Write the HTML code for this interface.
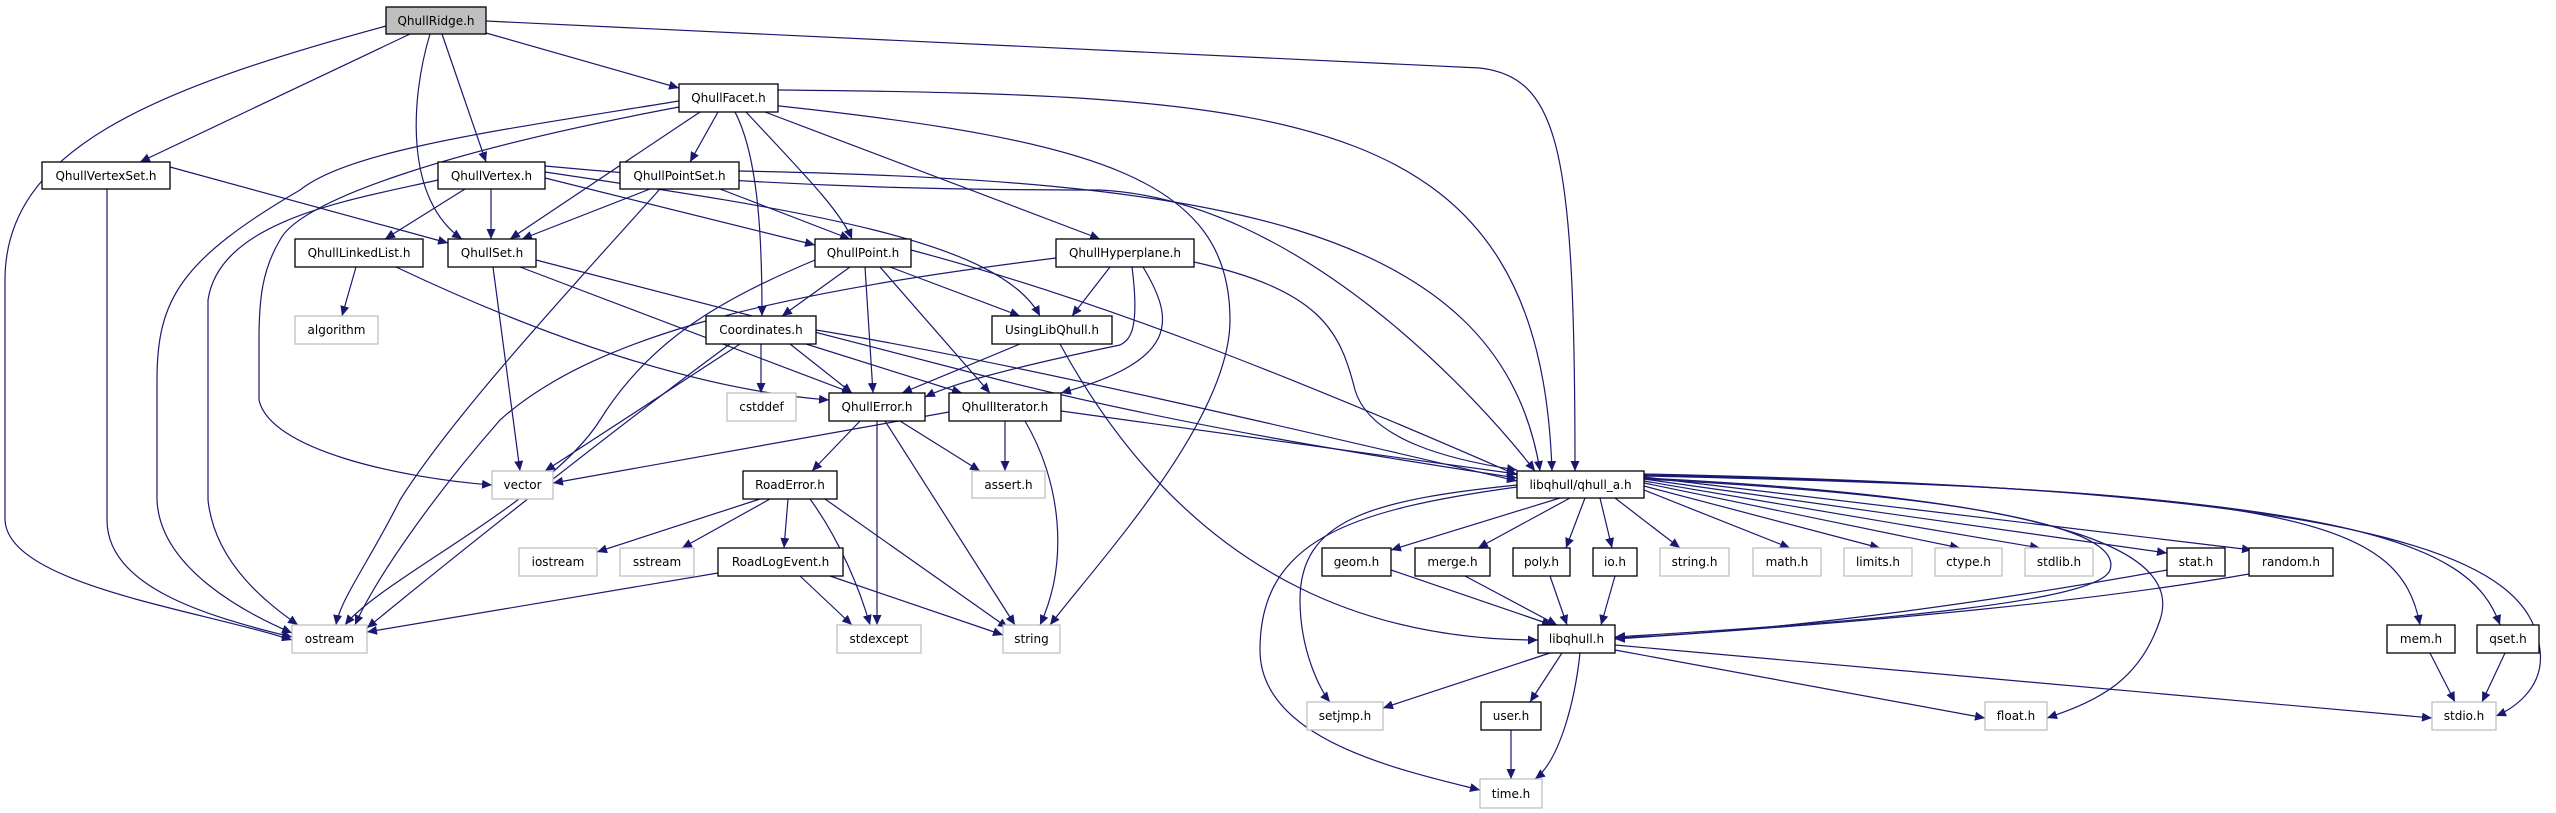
<!DOCTYPE html>
<html><head><meta charset="utf-8">
<style>
html,body{margin:0;padding:0;background:#fff;}
svg{display:block;}
text{font-family:"DejaVu Sans","Liberation Sans",sans-serif;font-size:12px;fill:#000;}
.n{fill:#fff;stroke:#000;stroke-width:1.3;}
.s{fill:#fff;stroke:#bfbfbf;stroke-width:1.3;}
.e{fill:none;stroke:#191970;stroke-width:1.2;}
</style></head><body>
<svg width="2556" height="813" viewBox="0 0 2556 813" xmlns="http://www.w3.org/2000/svg">
<defs>
<marker id="a" markerUnits="userSpaceOnUse" markerWidth="11" markerHeight="9" refX="10" refY="4.5" orient="auto">
<path d="M0,0 L10,4.5 L0,9 z" fill="#191970"/>
</marker>
</defs>
<g class="e" marker-end="url(#a)">
<!-- QhullRidge -->
<path d="M410,34 L140,162"/>
<path d="M430,34 C410,100 405,200 462,239"/>
<path d="M442,34 L486,162"/>
<path d="M486,33 L679,88"/>
<path d="M486,21 L1480,68 C1560,78 1575,150 1575,471"/>
<path d="M386,26 C150,90 5,150 5,280 L5,520 C8,585 200,610 292,640"/>
<!-- QhullFacet -->
<path d="M679,101 C500,130 350,150 300,190 C180,260 157,300 157,380 L157,500 C160,570 250,615 292,633"/>
<path d="M679,107 C450,150 300,200 280,240 C262,270 259,300 259,340 L259,400 C270,450 400,478 492,485"/>
<path d="M700,112 L510,239"/>
<path d="M718,112 L690,162"/>
<path d="M735,112 C760,160 762,250 762,316"/>
<path d="M746,112 C800,170 840,210 852,239"/>
<path d="M765,112 L1100,239"/>
<path d="M778,90 C1300,95 1540,110 1552,471"/>
<path d="M770,105 C1100,140 1230,180 1230,320 C1230,420 1100,560 1050,625"/>
<!-- VertexSet -->
<path d="M170,167 L448,243"/>
<path d="M107,189 L107,520 C107,585 200,615 292,637"/>
<!-- Vertex -->
<path d="M438,180 C350,200 220,220 208,300 L208,500 C215,565 270,605 298,625"/>
<path d="M465,189 L385,239"/>
<path d="M491,189 L491,239"/>
<path d="M545,178 L815,245"/>
<path d="M545,172 C800,210 1000,240 1040,316"/>
<path d="M545,166 C800,190 1000,190 1100,190 C1300,200 1480,400 1535,471"/>
<!-- PointSet -->
<path d="M650,189 L522,239"/>
<path d="M720,189 L850,239"/>
<path d="M739,171 C1200,180 1500,220 1540,471"/>
<path d="M660,189 C560,300 450,420 400,500 C370,560 340,600 336,625"/>
<!-- LinkedList -->
<path d="M356,267 L342,316"/>
<path d="M396,267 C550,340 700,390 829,400"/>
<!-- QhullSet -->
<path d="M493,267 L520,471"/>
<path d="M520,267 L852,393"/>
<path d="M536,260 L1000,380 C1200,430 1400,460 1517,478"/>
<!-- QhullPoint -->
<path d="M815,260 C720,300 650,340 600,420 C550,500 380,580 345,625"/>
<path d="M850,267 L782,316"/>
<path d="M865,267 L873,393"/>
<path d="M880,267 L990,393"/>
<path d="M890,267 L1020,316"/>
<path d="M911,250 C1100,300 1300,380 1517,475"/>
<!-- Hyperplane -->
<path d="M1056,258 C800,290 600,330 500,420 C430,500 375,580 355,625"/>
<path d="M1110,267 L1072,316"/>
<path d="M1132,267 C1140,330 1130,340 1120,345 C1000,370 950,385 925,397"/>
<path d="M1143,267 C1175,320 1180,360 1061,393"/>
<path d="M1194,262 C1320,290 1340,330 1355,390 C1370,440 1450,460 1517,470"/>
<!-- Coordinates -->
<path d="M761,344 L761,393"/>
<path d="M790,344 L852,393"/>
<path d="M806,344 L962,393"/>
<path d="M816,330 C1000,360 1300,430 1517,481"/>
<path d="M740,344 L545,471"/>
<path d="M730,344 C600,440 450,560 367,628"/>
<!-- UsingLibQhull -->
<path d="M1020,344 L902,393"/>
<path d="M1060,344 C1200,600 1400,640 1538,640"/>
<!-- QhullIterator -->
<path d="M1005,421 L1005,471"/>
<path d="M1025,421 C1060,480 1070,560 1040,625"/>
<path d="M949,412 L553,483"/>
<path d="M1061,411 L1517,474"/>
<!-- QhullError -->
<path d="M860,421 L812,471"/>
<path d="M900,421 L980,471"/>
<path d="M877,421 L877,625"/>
<path d="M885,421 L1015,625"/>
<!-- RoadError -->
<path d="M760,499 L597,552"/>
<path d="M770,499 L682,548"/>
<path d="M788,499 L784,548"/>
<path d="M810,499 C840,540 860,590 870,625"/>
<path d="M825,499 L1008,628"/>
<!-- RoadLogEvent -->
<path d="M718,573 L367,632"/>
<path d="M800,576 L852,625"/>
<path d="M830,576 L1003,635"/>
<!-- qhull_a -->
<path d="M1560,498 L1391,550"/>
<path d="M1570,498 L1478,548"/>
<path d="M1585,498 L1566,548"/>
<path d="M1600,498 L1612,548"/>
<path d="M1615,498 L1680,548"/>
<path d="M1644,490 L1790,548"/>
<path d="M1644,486 L1880,548"/>
<path d="M1644,483 L1960,548"/>
<path d="M1644,481 L2040,548"/>
<path d="M1644,479 L2167,553"/>
<path d="M1644,477 L2252,550"/>
<path d="M1644,476 C2300,490 2400,520 2420,625"/>
<path d="M1644,475 C2350,490 2470,540 2500,625"/>
<path d="M1644,474 C2400,490 2530,560 2540,650 C2545,690 2510,710 2496,716"/>
<path d="M1644,478 C2100,500 2180,560 2160,620 C2140,680 2100,700 2047,718"/>
<path d="M1644,479 C2050,500 2120,540 2110,570 C2100,600 1900,620 1615,637"/>
<path d="M1517,485 C1370,500 1300,520 1300,600 C1300,650 1320,690 1330,702"/>
<path d="M1517,487 C1350,510 1260,540 1260,650 C1260,740 1400,770 1480,790"/>
<!-- to libqhull.h -->
<path d="M1391,570 L1552,625"/>
<path d="M1465,576 L1557,625"/>
<path d="M1550,576 L1567,625"/>
<path d="M1615,576 L1601,625"/>
<path d="M2167,570 C2000,600 1800,630 1615,638"/>
<path d="M2249,574 C2100,600 1900,620 1615,639"/>
<!-- libqhull.h -->
<path d="M1550,653 L1383,708"/>
<path d="M1562,653 L1530,702"/>
<path d="M1580,653 C1575,700 1560,760 1535,779"/>
<path d="M1615,650 L1985,718"/>
<path d="M1615,645 L2432,718"/>
<path d="M1511,730 L1511,779"/>
<path d="M2430,653 L2455,702"/>
<path d="M2505,653 L2482,702"/>
</g>
<g text-anchor="middle">
<rect x="386" y="7" width="100" height="27" fill="#bfbfbf" stroke="#000" stroke-width="1.3"/><text x="436" y="25">QhullRidge.h</text>
<rect class="n" x="679" y="84" width="99" height="28"/><text x="728.5" y="102">QhullFacet.h</text>
<rect class="n" x="42" y="162" width="128" height="27"/><text x="106" y="180">QhullVertexSet.h</text>
<rect class="n" x="438" y="162" width="107" height="27"/><text x="491.5" y="180">QhullVertex.h</text>
<rect class="n" x="620" y="162" width="119" height="27"/><text x="679.5" y="180">QhullPointSet.h</text>
<rect class="n" x="295" y="239" width="128" height="28"/><text x="359" y="257">QhullLinkedList.h</text>
<rect class="n" x="448" y="239" width="88" height="28"/><text x="492" y="257">QhullSet.h</text>
<rect class="n" x="815" y="239" width="96" height="28"/><text x="863" y="257">QhullPoint.h</text>
<rect class="n" x="1056" y="239" width="138" height="28"/><text x="1125" y="257">QhullHyperplane.h</text>
<rect class="s" x="295" y="316" width="83" height="28"/><text x="336.5" y="334">algorithm</text>
<rect class="n" x="706" y="316" width="110" height="28"/><text x="761" y="334">Coordinates.h</text>
<rect class="n" x="992" y="316" width="120" height="28"/><text x="1052" y="334">UsingLibQhull.h</text>
<rect class="s" x="727" y="393" width="69" height="28"/><text x="761.5" y="411">cstddef</text>
<rect class="n" x="829" y="393" width="96" height="28"/><text x="877" y="411">QhullError.h</text>
<rect class="n" x="949" y="393" width="112" height="28"/><text x="1005" y="411">QhullIterator.h</text>
<rect class="s" x="492" y="471" width="61" height="28"/><text x="522.5" y="489">vector</text>
<rect class="n" x="743" y="471" width="94" height="28"/><text x="790" y="489">RoadError.h</text>
<rect class="s" x="972" y="471" width="73" height="27"/><text x="1008.5" y="489">assert.h</text>
<rect class="n" x="1517" y="471" width="127" height="27"/><text x="1580.5" y="489">libqhull/qhull_a.h</text>
<rect class="s" x="519" y="548" width="78" height="28"/><text x="558" y="566">iostream</text>
<rect class="s" x="620" y="548" width="74" height="28"/><text x="657" y="566">sstream</text>
<rect class="n" x="718" y="548" width="125" height="28"/><text x="780.5" y="566">RoadLogEvent.h</text>
<rect class="n" x="1322" y="548" width="69" height="28"/><text x="1356.5" y="566">geom.h</text>
<rect class="n" x="1415" y="548" width="75" height="28"/><text x="1452.5" y="566">merge.h</text>
<rect class="n" x="1513" y="548" width="57" height="28"/><text x="1541.5" y="566">poly.h</text>
<rect class="n" x="1593" y="548" width="44" height="28"/><text x="1615" y="566">io.h</text>
<rect class="s" x="1660" y="548" width="69" height="28"/><text x="1694.5" y="566">string.h</text>
<rect class="s" x="1753" y="548" width="68" height="28"/><text x="1787" y="566">math.h</text>
<rect class="s" x="1844" y="548" width="68" height="28"/><text x="1878" y="566">limits.h</text>
<rect class="s" x="1935" y="548" width="67" height="28"/><text x="1968.5" y="566">ctype.h</text>
<rect class="s" x="2025" y="548" width="68" height="28"/><text x="2059" y="566">stdlib.h</text>
<rect class="n" x="2167" y="548" width="58" height="28"/><text x="2196" y="566">stat.h</text>
<rect class="n" x="2249" y="548" width="84" height="28"/><text x="2291" y="566">random.h</text>
<rect class="s" x="292" y="625" width="75" height="28"/><text x="329.5" y="643">ostream</text>
<rect class="s" x="837" y="625" width="84" height="28"/><text x="879" y="643">stdexcept</text>
<rect class="s" x="1003" y="625" width="57" height="28"/><text x="1031.5" y="643">string</text>
<rect class="n" x="1538" y="625" width="77" height="28"/><text x="1576.5" y="643">libqhull.h</text>
<rect class="n" x="2387" y="625" width="68" height="28"/><text x="2421" y="643">mem.h</text>
<rect class="n" x="2477" y="625" width="62" height="28"/><text x="2508" y="643">qset.h</text>
<rect class="s" x="1307" y="702" width="76" height="28"/><text x="1345" y="720">setjmp.h</text>
<rect class="n" x="1481" y="702" width="60" height="28"/><text x="1511" y="720">user.h</text>
<rect class="s" x="1985" y="702" width="62" height="28"/><text x="2016" y="720">float.h</text>
<rect class="s" x="2432" y="702" width="64" height="28"/><text x="2464" y="720">stdio.h</text>
<rect class="s" x="1480" y="779" width="62" height="29"/><text x="1511" y="798">time.h</text>
</g>
</svg>
</body></html>
